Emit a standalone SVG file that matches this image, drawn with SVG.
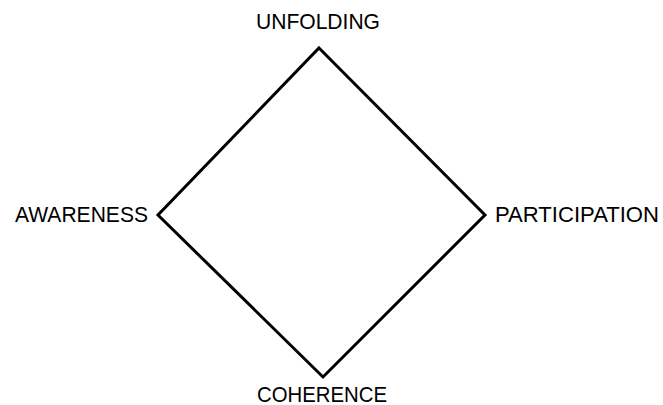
<svg xmlns="http://www.w3.org/2000/svg" width="663" height="405" viewBox="0 0 663 405">
<style>
.lbl{font-family:"Liberation Sans",Arial,sans-serif;font-size:21.2px;fill:#000}
.edge{fill:none;stroke:#000;stroke-width:3;stroke-linejoin:miter}
</style>
<rect width="663" height="405" fill="#fff"/>
<g id="connectors">
<path class="edge" d="M319,48 L485,215 L323,377 L158,215 Z"/>
</g>
<g id="unfolding"><text class="lbl" x="256" y="29" textLength="124" lengthAdjust="spacingAndGlyphs">UNFOLDING</text></g>
<g id="participation"><text class="lbl" x="495" y="222" textLength="164" lengthAdjust="spacingAndGlyphs">PARTICIPATION</text></g>
<g id="coherence"><text class="lbl" x="257" y="402" textLength="130" lengthAdjust="spacingAndGlyphs">COHERENCE</text></g>
<g id="awareness"><text class="lbl" x="15" y="222" textLength="133" lengthAdjust="spacingAndGlyphs">AWARENESS</text></g>
</svg>
